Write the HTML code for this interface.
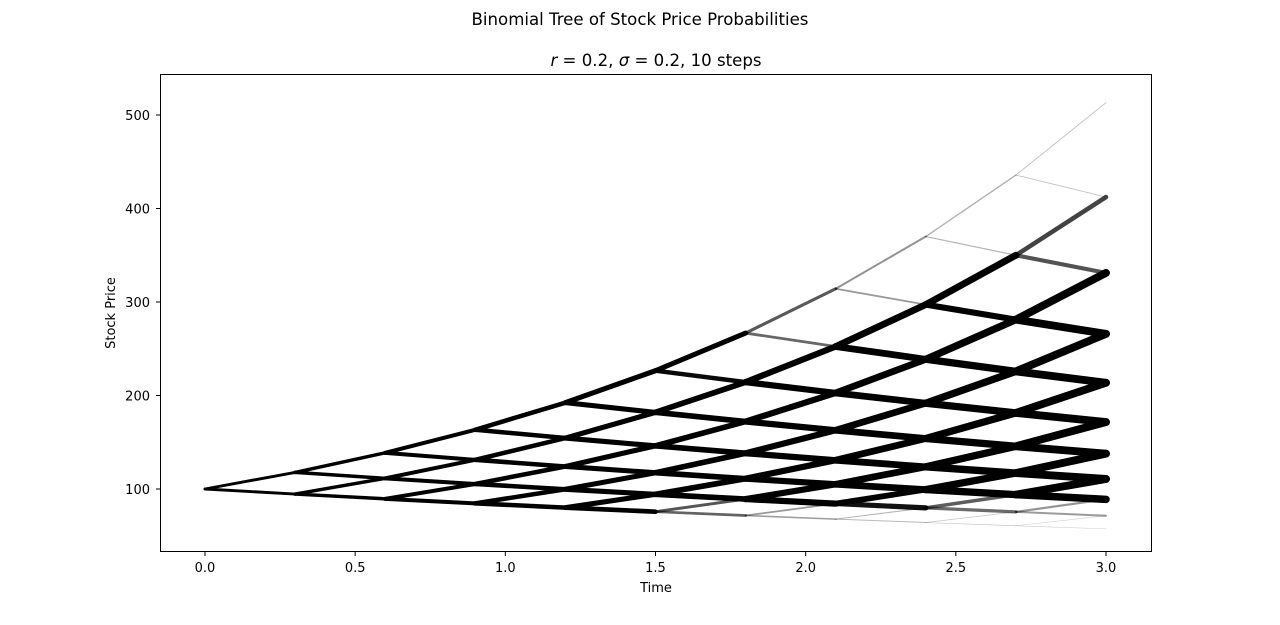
<!DOCTYPE html>
<html><head><meta charset="utf-8"><style>
body{margin:0;background:#fff;font-family:"Liberation Sans","DejaVu Sans",sans-serif;}
svg text{font-family:"DejaVu Sans","Liberation Sans",sans-serif;fill:#000;}
</style></head><body>
<svg id="chart" width="1280" height="620" viewBox="0 0 1280 620" xmlns="http://www.w3.org/2000/svg">
<rect width="1280" height="620" fill="#fff"/>
<text x="640" y="25" font-size="16.6" text-anchor="middle">Binomial Tree of Stock Price Probabilities</text>
<text x="656" y="66" font-size="16.6" text-anchor="middle"><tspan font-style="italic">r</tspan> = 0.2, <tspan font-style="italic">σ</tspan> = 0.2, 10 steps</text>
<g id="marks"></g>
<rect x="160.5" y="74.5" width="991" height="477" fill="none" stroke="#000" stroke-width="1"/>
<g id="xticks"></g>
<g id="yticks"></g>
<text x="656" y="592" font-size="13" text-anchor="middle">Time</text>
<text transform="translate(115,313) rotate(-90)" font-size="13" text-anchor="middle">Stock Price</text>
</svg>
<script>
const params = [0.2, 0.2, 10, 3, 100]; // r, sigma, steps, maturity, S0
const xTicks = [0.0, 0.5, 1.0, 1.5, 2.0, 2.5, 3.0];
const yTicks = [100, 200, 300, 400, 500];
const upProb = [0.53];

const NS = "http://www.w3.org/2000/svg";
const xs = t => 205 + t * 300.33;
const ys = v => 489 - (v - 100) * 0.935;
const [r, sig, N, T, S0] = params;
const dt = T / N;
const node = (n, k) => S0 * Math.exp((r - sig * sig / 2) * n * dt + sig * Math.sqrt(dt) * (2 * k - n));
function binom(n, k){let c=1;for(let i=0;i<k;i++)c=c*(n-i)/(i+1);return c;}
const p = upProb[0];
const g = document.getElementById('marks');
for (let n = 0; n < N; n++) {
  for (let k = 0; k <= n; k++) {
    const pn = binom(n, k) * Math.pow(p, k) * Math.pow(1 - p, n - k);
    [[k + 1, p], [k, 1 - p]].forEach(([k2, q]) => {
      const prob = pn * q;
      const spread = 2.5 + n * 0.55;
      const w = 0.4 + spread * Math.min(1, prob * 40);
      const op = Math.min(1, 0.18 + prob * 40);
      const ln = document.createElementNS(NS, 'line');
      
      
      ln.setAttribute('x1', xs(n * dt)); ln.setAttribute('y1', ys(node(n, k)));
      ln.setAttribute('x2', xs((n + 1) * dt)); ln.setAttribute('y2', ys(node(n + 1, k2)));
      ln.setAttribute('stroke', '#000'); ln.setAttribute('stroke-width', w);
      ln.setAttribute('stroke-opacity', op);
      ln.setAttribute('stroke-linecap', 'round');
      g.appendChild(ln);
    });
  }
}
const xg = document.getElementById('xticks');
xTicks.forEach(t => {
  const x = xs(t);
  const l = document.createElementNS(NS, 'line');
  
  
  l.setAttribute('x1', x); l.setAttribute('x2', x); l.setAttribute('y1', 552); l.setAttribute('y2', 556);
  l.setAttribute('stroke', '#000'); xg.appendChild(l);
  const tx = document.createElementNS(NS, 'text');
  
  
  tx.setAttribute('x', x); tx.setAttribute('y', 572); tx.setAttribute('font-size', '13');
  tx.setAttribute('text-anchor', 'middle'); tx.textContent = t.toFixed(1); xg.appendChild(tx);
});
const yg = document.getElementById('yticks');
yTicks.forEach(v => {
  const y = ys(v);
  const l = document.createElementNS(NS, 'line');
  
  
  l.setAttribute('x1', 156); l.setAttribute('x2', 160); l.setAttribute('y1', y); l.setAttribute('y2', y);
  l.setAttribute('stroke', '#000'); yg.appendChild(l);
  const tx = document.createElementNS(NS, 'text');
  
  
  tx.setAttribute('x', 150); tx.setAttribute('y', y + 5); tx.setAttribute('font-size', '13');
  tx.setAttribute('text-anchor', 'end'); tx.textContent = v; yg.appendChild(tx);
});
</script>
</body></html>
